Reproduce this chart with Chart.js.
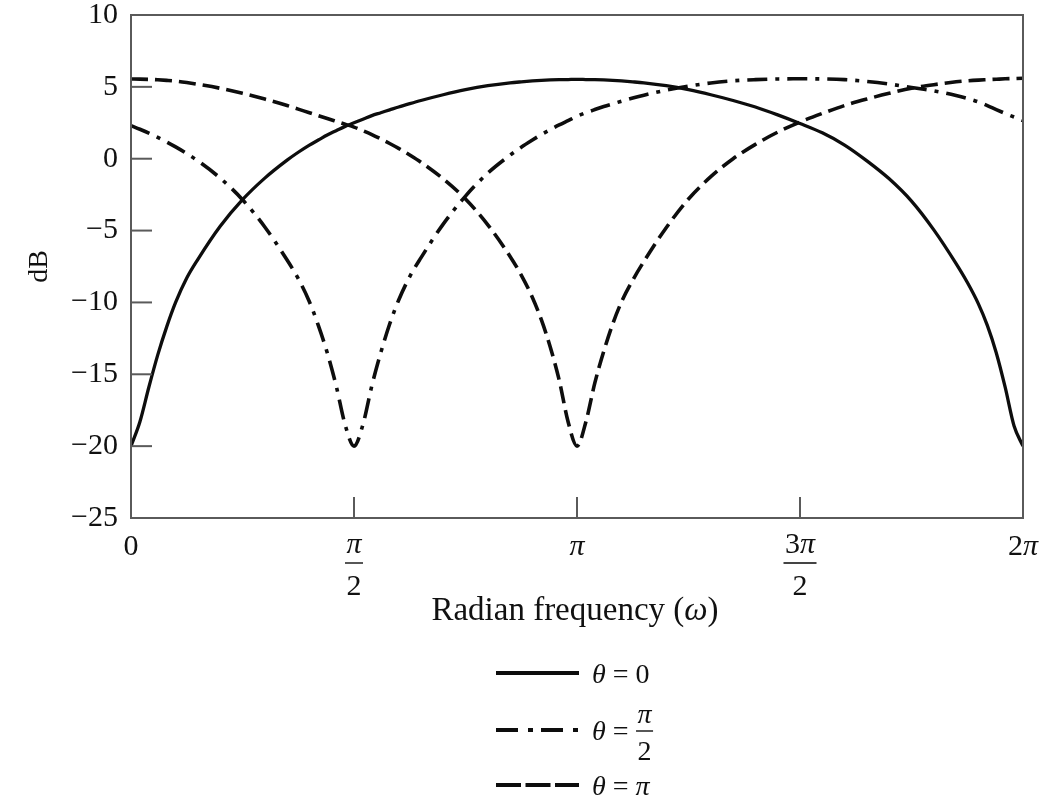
<!DOCTYPE html>
<html>
<head>
<meta charset="utf-8">
<title>dB x Radian frequency</title>
<script src="https://cdn.jsdelivr.net/npm/chart.js@4.4.1/dist/chart.umd.min.js"></script>
<style>
  html, body { margin: 0; padding: 0; background: #fff; }
  #grafico { display: block; }
</style>
</head>
<body>
<canvas id="grafico" width="1061" height="797"></canvas>
<script>
// frequencia em unidades de pi (0 .. 2pi)
const omega = [0, 0.02, 0.04, 0.06, 0.08, 0.1, 0.125, 0.15, 0.2, 0.25, 0.3, 0.35, 0.375, 0.4, 0.42, 0.44, 0.46, 0.48, 0.5,
  0.52, 0.54, 0.56, 0.58, 0.6, 0.625, 0.65, 0.7, 0.75, 0.8, 0.85, 0.875, 0.9, 0.92, 0.94, 0.96, 0.98, 1.0,
  1.02, 1.04, 1.06, 1.08, 1.1, 1.125, 1.15, 1.2, 1.25, 1.3, 1.35, 1.4, 1.45, 1.5,
  1.55, 1.6, 1.65, 1.7, 1.75, 1.8, 1.85, 1.875, 1.9, 1.92, 1.94, 1.96, 1.98, 2.0];

// theta = 0 (linha cheia)
const dbTheta0 = [-20, -18.3, -15.9, -13.65, -11.7, -10.0, -8.3, -7.0, -4.7, -2.85, -1.35, -0.1, 0.45, 0.95, 1.3, 1.65, 1.95, 2.25, 2.5,
  2.75, 3.0, 3.2, 3.4, 3.6, 3.83, 4.05, 4.45, 4.8, 5.08, 5.28, 5.35, 5.41, 5.45, 5.48, 5.5, 5.51, 5.52,
  5.51, 5.5, 5.48, 5.45, 5.41, 5.35, 5.28, 5.08, 4.8, 4.45, 4.05, 3.6, 3.05, 2.45,
  1.8, 0.95, -0.15, -1.4, -2.95, -4.95, -7.3, -8.6, -10.1, -11.6, -13.5, -15.9, -18.6, -20];

// theta = pi/2 (traco-ponto)
const dbThetaMeioPi = [2.3, 2.05, 1.78, 1.48, 1.16, 0.82, 0.36, -0.15, -1.35, -2.85, -4.75, -7.05, -8.35, -9.95, -11.6, -13.5, -15.8, -18.5, -20,
  -18.5, -15.8, -13.5, -11.5, -9.85, -8.2, -6.9, -4.55, -2.6, -1.0, 0.25, 0.8, 1.3, 1.68, 2.02, 2.35, 2.65, 2.95,
  3.2, 3.42, 3.63, 3.82, 4.0, 4.22, 4.42, 4.77, 5.05, 5.27, 5.42, 5.5, 5.55, 5.56,
  5.55, 5.5, 5.38, 5.2, 4.95, 4.72, 4.4, 4.2, 3.95, 3.7, 3.42, 3.15, 2.9, 2.65];

// theta = pi (tracejada)
const dbThetaPi = [5.55, 5.54, 5.52, 5.49, 5.45, 5.4, 5.3, 5.18, 4.9, 4.55, 4.15, 3.7, 3.45, 3.2, 3.0, 2.8, 2.6, 2.4, 2.2,
  1.95, 1.68, 1.38, 1.06, 0.72, 0.26, -0.24, -1.4, -2.8, -4.6, -6.8, -8.1, -9.65, -11.2, -13.1, -15.4, -18.3, -20,
  -18.3, -15.6, -13.4, -11.5, -9.95, -8.45, -7.15, -4.8, -2.8, -1.25, 0.0, 1.0, 1.85, 2.55,
  3.15, 3.7, 4.15, 4.55, 4.9, 5.15, 5.35, 5.42, 5.47, 5.5, 5.53, 5.56, 5.58, 5.6];

const xTicks = [0, 0.5, 1, 1.5, 2];
const xTickLabels = [['0'], ['π', '2'], ['π'], ['3π', '2'], ['2π']];
const yMin = -25;
const yMax = 10;
const yStep = 5;

const legendLabels = [['θ = 0'], ['θ = ', 'π', '2'], ['θ = π']];
const legendDash = [[], [22, 10, 5, 8], [25, 4.5]];

const serif = '"Liberation Serif", "Times New Roman", serif';
const corTexto = '#111';
const corEixo = '#5a5a5a';
const corLinha = '#0d0d0d';

// escreve texto com letras gregas em italico
const desenharTexto = (ctx, texto, x, y, tamanho, align) => {
  const partes = texto.match(/[πθω]+|[^πθω]+/g) || [];
  const fonte = (p) => (/[πθω]/.test(p) ? 'italic ' : '') + tamanho + 'px ' + serif;
  let total = 0;
  partes.forEach(p => { ctx.font = fonte(p); total += ctx.measureText(p).width; });
  let cx = x;
  if (align === 'center') cx = x - total / 2;
  if (align === 'right') cx = x - total;
  ctx.textAlign = 'left';
  ctx.textBaseline = 'alphabetic';
  ctx.fillStyle = corTexto;
  partes.forEach(p => {
    ctx.font = fonte(p);
    ctx.fillText(p, cx, y);
    cx += ctx.measureText(p).width;
  });
  return total;
};

const desenharFracao = (ctx, num, den, cx, yNum, yBarra, yDen, tamanho) => {
  const w1 = desenharTexto(ctx, num, cx, yNum, tamanho, 'center');
  const w2 = desenharTexto(ctx, den, cx, yDen, tamanho, 'center');
  const w = Math.max(w1, w2) + 3;
  ctx.beginPath();
  ctx.moveTo(cx - w / 2, yBarra);
  ctx.lineTo(cx + w / 2, yBarra);
  ctx.lineWidth = 1.8;
  ctx.setLineDash([]);
  ctx.strokeStyle = '#444';
  ctx.stroke();
};

const extrasPlugin = {
  id: 'extras',
  afterDraw(chart) {
    const ctx = chart.ctx;
    const area = chart.chartArea;
    const xs = chart.scales.x;
    const ys = chart.scales.y;
    ctx.save();

    // caixa do grafico
    ctx.strokeStyle = corEixo;
    ctx.lineWidth = 2;
    ctx.setLineDash([]);
    ctx.strokeRect(area.left, area.top, area.right - area.left, area.bottom - area.top);

    // ticks para dentro
    ys.ticks.forEach(t => {
      if (t.value === yMin || t.value === yMax) return;
      const py = ys.getPixelForValue(t.value);
      ctx.beginPath();
      ctx.moveTo(area.left, py);
      ctx.lineTo(area.left + 21, py);
      ctx.stroke();
    });
    xTicks.forEach(v => {
      if (v === 0 || v === 2) return;
      const px = xs.getPixelForValue(v);
      ctx.beginPath();
      ctx.moveTo(px, area.bottom);
      ctx.lineTo(px, area.bottom - 21);
      ctx.stroke();
    });

    // rotulos do eixo x
    xTicks.forEach((v, i) => {
      const px = xs.getPixelForValue(v);
      const lab = xTickLabels[i];
      if (lab.length === 1) {
        desenharTexto(ctx, lab[0], px, area.bottom + 37, 30, 'center');
      } else {
        desenharFracao(ctx, lab[0], lab[1], px, area.bottom + 35, area.bottom + 45, area.bottom + 77, 30);
      }
    });

    desenharTexto(ctx, 'Radian frequency (ω)', 575, area.bottom + 102, 33, 'center');

    // legenda
    const legY = [673, 730, 785];
    chart.data.datasets.forEach((ds, i) => {
      const y = legY[i];
      ctx.beginPath();
      ctx.setLineDash(legendDash[i]);
      ctx.strokeStyle = corLinha;
      ctx.lineWidth = 4;
      ctx.moveTo(496, y);
      ctx.lineTo(579, y);
      ctx.stroke();
      ctx.setLineDash([]);
      const lab = legendLabels[i];
      const w = desenharTexto(ctx, lab[0], 592, y + 10, 28, 'left');
      if (lab.length === 3) {
        desenharFracao(ctx, lab[1], lab[2], 592 + w + 9, y - 7, y + 1, y + 30, 28);
      }
    });

    ctx.restore();
  }
};

const montarPontos = (valores) => omega.map((w, i) => ({ x: w, y: valores[i] }));

const linha = (label, valores, dash, largura) => ({
  label: label,
  data: montarPontos(valores),
  borderColor: corLinha,
  borderWidth: largura,
  borderDash: dash,
  borderCapStyle: 'butt',
  pointRadius: 0,
  fill: false,
  cubicInterpolationMode: 'monotone'
});

new Chart(document.getElementById('grafico').getContext('2d'), {
  type: 'line',
  data: {
    datasets: [
      linha('θ = 0', dbTheta0, [], 3.3),
      linha('θ = π/2', dbThetaMeioPi, [20, 8, 4, 8], 3.6),
      linha('θ = π', dbThetaPi, [17, 7], 3.6)
    ]
  },
  options: {
    responsive: false,
    animation: false,
    devicePixelRatio: 1,
    layout: { padding: { top: 15, right: 38, left: 0, bottom: 0 } },
    plugins: {
      legend: { display: false },
      tooltip: { enabled: false }
    },
    scales: {
      x: {
        type: 'linear',
        min: 0,
        max: 2,
        grid: { display: false, drawTicks: false },
        border: { display: false },
        ticks: { display: false },
        afterFit: (s) => { s.height = 279; }
      },
      y: {
        min: yMin,
        max: yMax,
        grid: { display: false, drawTicks: false },
        border: { display: false },
        ticks: {
          stepSize: yStep,
          padding: 13,
          color: corTexto,
          font: { family: serif, size: 30 },
          callback: (v) => (v < 0 ? '−' + Math.abs(v) : String(v))
        },
        title: {
          display: true,
          text: 'dB',
          color: corTexto,
          font: { family: serif, size: 28 },
          padding: { top: 23, bottom: 0 }
        },
        afterFit: (s) => {
          s.width = 131;
          s.paddingTop = 0;
          s.paddingBottom = 0;
        }
      }
    }
  },
  plugins: [extrasPlugin]
});
</script>
</body>
</html>
